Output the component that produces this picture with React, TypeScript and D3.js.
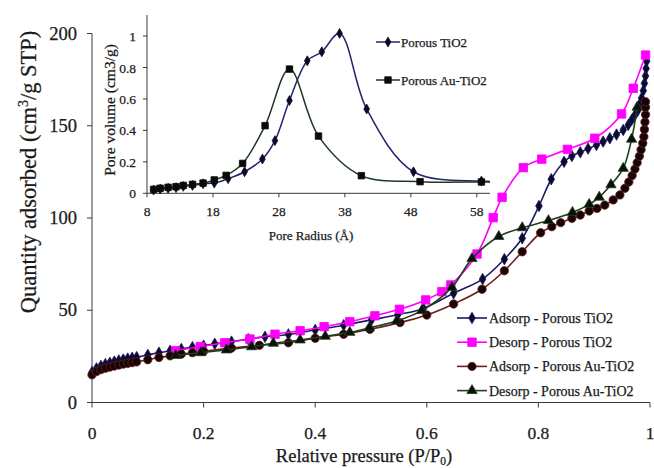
import React from 'react'
import * as d3 from 'd3'

// main isotherm data: relative pressure (P/P0) and quantity adsorbed (cm3/g STP)
const adsTiO2P = [0, 0.008, 0.016, 0.024, 0.032, 0.04, 0.048, 0.056, 0.064, 0.072, 0.08, 0.1, 0.12, 0.14, 0.16, 0.18, 0.2, 0.22, 0.25, 0.28, 0.31, 0.352, 0.4, 0.451, 0.501, 0.548, 0.594, 0.648, 0.7, 0.739, 0.771, 0.801, 0.823, 0.846, 0.86, 0.875, 0.889, 0.904, 0.916, 0.928, 0.94, 0.952, 0.961, 0.967, 0.973, 0.979, 0.982, 0.985, 0.988, 0.99, 0.992, 0.993, 0.994]
const adsTiO2Q = [16.5, 18.5, 19.8, 20.8, 21.5, 22.2, 22.8, 23.3, 23.8, 24.2, 24.6, 25.8, 27, 28, 29, 30, 30.8, 31.8, 33, 34.3, 35.6, 36.9, 39.3, 41.9, 44.8, 47.6, 51, 59.2, 66.9, 77.7, 89, 106.5, 121, 130.5, 133.6, 135.6, 137.6, 139.6, 141.4, 143.2, 145.2, 147.7, 150.4, 153.1, 155.8, 158.7, 162, 165, 169, 173, 177, 181, 185]

const desTiO2P = [0.15, 0.194, 0.238, 0.283, 0.328, 0.373, 0.416, 0.462, 0.507, 0.551, 0.598, 0.627, 0.643, 0.69, 0.719, 0.735, 0.773, 0.806, 0.852, 0.901, 0.949, 0.97, 0.992]
const desTiO2Q = [28.1, 30.3, 32.4, 34.4, 37, 38.9, 41.1, 43.8, 47, 50.5, 55.6, 60.1, 63.7, 80.5, 100.2, 111.2, 127.3, 131.9, 137.2, 143.2, 156.4, 170.3, 188.3]

const adsAuP = [0, 0.008, 0.016, 0.024, 0.032, 0.04, 0.048, 0.056, 0.064, 0.072, 0.08, 0.1, 0.12, 0.14, 0.16, 0.18, 0.2, 0.25, 0.3, 0.352, 0.4, 0.451, 0.498, 0.552, 0.6, 0.648, 0.699, 0.739, 0.771, 0.804, 0.824, 0.84, 0.86, 0.875, 0.891, 0.905, 0.919, 0.934, 0.946, 0.955, 0.962, 0.968, 0.973, 0.977, 0.981, 0.984, 0.987, 0.989, 0.99, 0.991, 0.992, 0.992, 0.992]
const adsAuQ = [15, 16.8, 17.8, 18.6, 19.2, 19.8, 20.3, 20.8, 21.2, 21.6, 22, 23.2, 24.4, 25.3, 26.2, 27, 27.8, 29.5, 31, 32.4, 34.8, 37, 39.7, 43.3, 47.4, 53.4, 61.4, 71.4, 81.7, 92, 95.3, 97.5, 99.8, 101.6, 103.8, 105.2, 107, 109.8, 112.5, 116.1, 119.5, 123, 126.5, 130, 133.5, 137, 140.5, 144, 148, 152, 156, 160, 163]

const desAuP = [0.15, 0.195, 0.241, 0.286, 0.325, 0.373, 0.418, 0.462, 0.497, 0.546, 0.591, 0.645, 0.681, 0.729, 0.771, 0.818, 0.861, 0.891, 0.909, 0.93, 0.952, 0.967, 0.977]
const desAuQ = [25.5, 27, 28.5, 30.2, 32.1, 33.9, 35.9, 38, 40.5, 44.2, 49.8, 62.4, 78, 90, 94.7, 98.6, 103, 107.4, 111.3, 118, 126.9, 142.7, 160]

// inset: pore size distribution
const poreTiO2R = [9, 10, 11.2, 12.4, 13.5, 14.9, 16.5, 18.2, 20.3, 22.8, 25.5, 27.4, 29.6, 32.3, 34.5, 37.2, 41.3, 48.4, 58.7, 62]
const poreTiO2V = [0.021, 0.027, 0.032, 0.036, 0.044, 0.05, 0.061, 0.065, 0.093, 0.137, 0.218, 0.335, 0.59, 0.843, 0.9, 1.017, 0.536, 0.137, 0.078, 0.077]
const poreAuR = [9, 10, 11.2, 12.4, 13.5, 14.9, 16.5, 18.2, 20, 22.5, 25.9, 29.6, 34, 40.5, 49.4, 58.7, 62]
const poreAuV = [0.025, 0.032, 0.038, 0.042, 0.05, 0.057, 0.065, 0.085, 0.114, 0.19, 0.43, 0.79, 0.364, 0.112, 0.074, 0.072, 0.072]

const mainXTicks = [0, 0.2, 0.4, 0.6, 0.8, 1]
const mainYTicks = [0, 50, 100, 150, 200]
const insetXTicks = [8, 18, 28, 38, 48, 58]
const insetYTicks = [0, 0.2, 0.4, 0.6, 0.8, 1]

const mainLegend = ['Adsorp - Porous TiO2', 'Desorp - Porous TiO2', 'Adsorp - Porous Au-TiO2', 'Desorp - Porous Au-TiO2']
const insetLegend = ['Porous TiO2', 'Porous Au-TiO2']

const FONT = '"Liberation Serif", "Times New Roman", serif'
const TXT = '#1a1a1a'

type Kind = 'diamond' | 'square' | 'circle' | 'triangle'

function Marker({ kind, x, y, size, fill, stroke }: { kind: Kind; x: number; y: number; size: number; fill: string; stroke: string }) {
  const sym = kind === 'diamond' ? d3.symbolDiamond : kind === 'square' ? d3.symbolSquare : kind === 'circle' ? d3.symbolCircle : d3.symbolTriangle
  const d = d3.symbol(sym, size)()
  return <path d={d || ''} transform={`translate(${x},${y})`} fill={fill} stroke={stroke} strokeWidth={0.8} />
}

export default function App() {
  const x = d3.scaleLinear().domain([0, 1]).range([92, 650])
  const y = d3.scaleLinear().domain([0, 200]).range([402.5, 33.5])
  const ix = d3.scaleLinear().domain([8, 60]).range([147, 490])
  const iy = d3.scaleLinear().domain([0, 1.134]).range([193.3, 15])

  const line = d3.line<[number, number]>().x(d => x(d[0])).y(d => y(d[1])).curve(d3.curveCatmullRom.alpha(0.5))
  const iline = d3.line<[number, number]>().x(d => ix(d[0])).y(d => iy(d[1])).curve(d3.curveCatmullRom.alpha(0.5))

  const zip = (a: number[], b: number[]) => a.map((v, i) => [v, b[i]] as [number, number])

  const series = [
    { pts: zip(adsTiO2P, adsTiO2Q), color: '#1b1b66', kind: 'diamond' as Kind, size: 38, fill: '#0a0a2a', stroke: '#1b1b66' },
    { pts: zip(desTiO2P, desTiO2Q), color: '#ff00ff', kind: 'square' as Kind, size: 72, fill: '#ff00ff', stroke: '#ff00ff' },
    { pts: zip(adsAuP, adsAuQ), color: '#6e1e1e', kind: 'circle' as Kind, size: 55, fill: '#150505', stroke: '#6e1e1e' },
    { pts: zip(desAuP, desAuQ), color: '#1e3f1e', kind: 'triangle' as Kind, size: 46, fill: '#0a0f0a', stroke: '#1e3f1e' },
  ]

  const inset = [
    { pts: zip(poreTiO2R, poreTiO2V), color: '#25256e', kind: 'diamond' as Kind, size: 28, fill: '#0a0a2a' },
    { pts: zip(poreAuR, poreAuV), color: '#1e3a1e', kind: 'square' as Kind, size: 42, fill: '#0a0a0a' },
  ]

  const axisColor = '#3a3a3a'
  const thick = { stroke: TXT, strokeWidth: 0.25 }

  return (
    <svg width={654} height={468} style={{ display: 'block', position: 'absolute', left: 0, top: 0, background: '#fff' }} fontFamily={FONT}>
      <defs>
        <clipPath id="insetClip">
          <rect x={147} y={0} width={343} height={200} />
        </clipPath>
      </defs>

      {/* main axes */}
      <line x1={x(0)} x2={x(1)} y1={y(0)} y2={y(0)} stroke={axisColor} strokeWidth={1} />
      <line x1={x(0)} x2={x(0)} y1={y(0)} y2={y(200)} stroke={axisColor} strokeWidth={1} />
      {mainXTicks.map(t => (
        <g key={'mx' + t}>
          <line x1={x(t)} x2={x(t)} y1={y(0)} y2={y(0) + 5} stroke={axisColor} />
          <text x={x(t)} y={439} textAnchor="middle" fontSize={17.5} fill={TXT} {...thick}>{t}</text>
        </g>
      ))}
      {mainYTicks.map(t => (
        <g key={'my' + t}>
          <line x1={x(0) - 5} x2={x(0)} y1={y(t)} y2={y(t)} stroke={axisColor} />
          <text x={77} y={y(t) + 6} textAnchor="end" fontSize={18.5} fill={TXT} {...thick}>{t}</text>
        </g>
      ))}
      <text x={364} y={462} textAnchor="middle" fontSize={18.5} fill={TXT} {...thick}>
        Relative pressure (P/P<tspan fontSize={11.5} dy={2.5}>0</tspan><tspan dy={-2.5}>)</tspan>
      </text>
      <text transform={`translate(36,172) rotate(-90)`} textAnchor="middle" fontSize={22.5} fill={TXT} {...thick}>
        Quantity adsorbed (cm<tspan fontSize={14} dy={-8}>3</tspan><tspan dy={8}>/g STP)</tspan>
      </text>

      {/* main series */}
      {series.map((s, i) => (
        <g key={'s' + i}>
          <path d={line(s.pts) || ''} fill="none" stroke={s.color} strokeWidth={1.6} />
          {s.pts.map((p, j) => (
            <Marker key={j} kind={s.kind} x={x(p[0])} y={y(p[1])} size={s.size} fill={s.fill} stroke={s.stroke} />
          ))}
        </g>
      ))}

      {/* main legend */}
      {mainLegend.map((name, i) => {
        const s = series[i]
        const ly = 318 + i * 24.2
        return (
          <g key={name}>
            <line x1={457} x2={487} y1={ly} y2={ly} stroke={s.color} strokeWidth={1.6} />
            <Marker kind={s.kind} x={472} y={ly} size={s.size} fill={s.fill} stroke={s.stroke} />
            <text x={489} y={ly + 5} fontSize={14} fill={TXT} {...thick}>{name}</text>
          </g>
        )
      })}

      {/* inset axes */}
      <line x1={ix(8)} x2={ix(60)} y1={iy(0)} y2={iy(0)} stroke={axisColor} />
      <line x1={ix(8)} x2={ix(8)} y1={iy(0)} y2={iy(1.134)} stroke={axisColor} />
      {insetXTicks.map(t => (
        <g key={'ix' + t}>
          <line x1={ix(t)} x2={ix(t)} y1={iy(0)} y2={iy(0) + 4} stroke={axisColor} />
          <text x={ix(t)} y={216} textAnchor="middle" fontSize={13.5} fill={TXT} {...thick}>{t}</text>
        </g>
      ))}
      {insetYTicks.map(t => (
        <g key={'iy' + t}>
          <line x1={ix(8) - 4} x2={ix(8)} y1={iy(t)} y2={iy(t)} stroke={axisColor} />
          <text x={136} y={iy(t) + 5} textAnchor="end" fontSize={13.5} fill={TXT} {...thick}>{t}</text>
        </g>
      ))}
      <text x={311} y={240} textAnchor="middle" fontSize={13} fill={TXT} {...thick}>Pore Radius (Å)</text>
      <text transform={`translate(115,110) rotate(-90)`} textAnchor="middle" fontSize={15.5} fill={TXT} {...thick}>Pore volume (cm3/g)</text>

      {/* inset series */}
      <g clipPath="url(#insetClip)">
        {inset.map((s, i) => (
          <g key={'is' + i}>
            <path d={iline(s.pts) || ''} fill="none" stroke={s.color} strokeWidth={1.5} />
            {s.pts.map((p, j) => (
              <Marker key={j} kind={s.kind} x={ix(p[0])} y={iy(p[1])} size={s.size} fill={s.fill} stroke={s.fill} />
            ))}
          </g>
        ))}
      </g>

      {/* inset legend */}
      {insetLegend.map((name, i) => {
        const s = inset[i]
        const ly = 42 + i * 38
        return (
          <g key={name}>
            <line x1={376} x2={400} y1={ly} y2={ly} stroke={s.color} strokeWidth={1.5} />
            <Marker kind={s.kind} x={388} y={ly} size={s.size} fill={s.fill} stroke={s.fill} />
            <text x={401} y={ly + 4.5} fontSize={13} fill={TXT} {...thick}>{name}</text>
          </g>
        )
      })}
    </svg>
  )
}
